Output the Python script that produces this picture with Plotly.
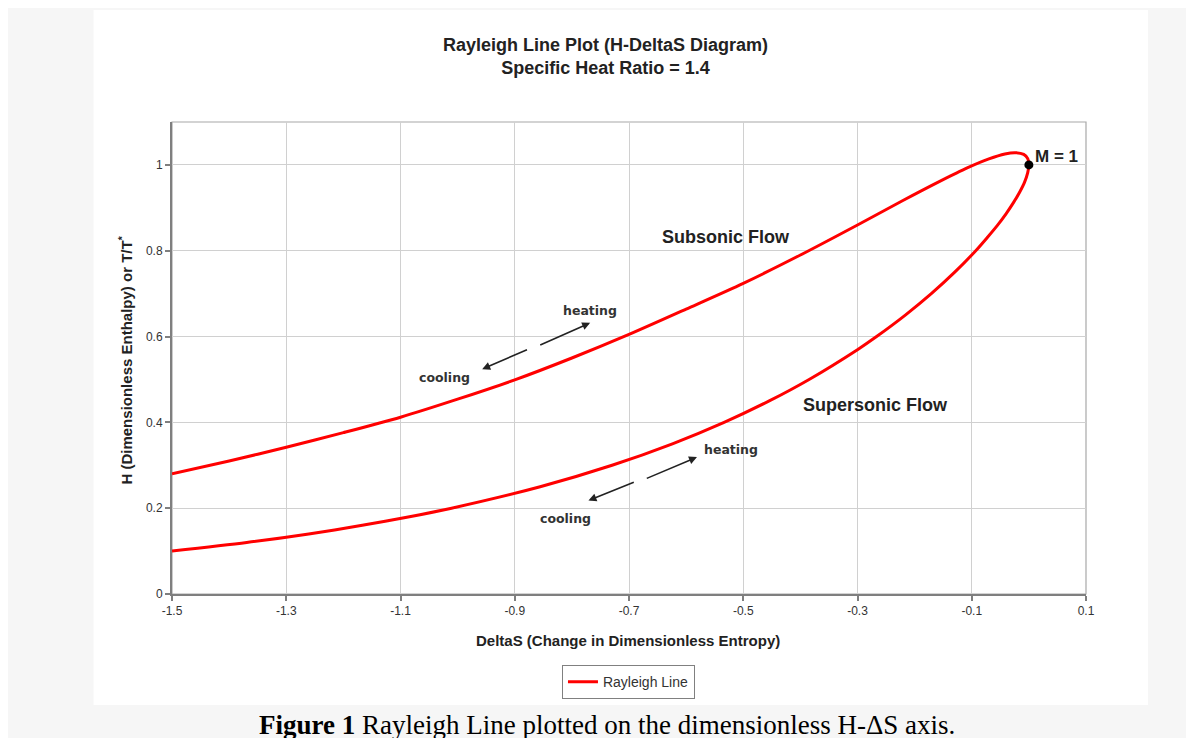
import plotly.graph_objects as go

# ---- data ----
subsonic_ds = [-1.5, -1.4, -1.3, -1.2, -1.1, -1.0, -0.9, -0.8, -0.7, -0.6, -0.5, -0.4,
               -0.3, -0.2205, -0.157, -0.108, -0.07, -0.042, -0.024, -0.009, -0.002, 0.0]
subsonic_h = [0.280, 0.310, 0.342, 0.376, 0.412, 0.454, 0.499, 0.550, 0.605, 0.664, 0.724, 0.790,
              0.860, 0.917, 0.961, 0.993, 1.014, 1.0255, 1.0286, 1.0245, 1.0146, 1.0]
supersonic_ds = [0.0, -0.002, -0.0075, -0.016, -0.027, -0.040, -0.0551, -0.072, -0.093, -0.1298,
                 -0.1708, -0.2163, -0.2666, -0.2994, -0.3847, -0.4545, -0.5335, -0.624, -0.7296,
                 -0.8555, -1.0106, -1.0843, -1.1669, -1.2606, -1.3692, -1.5]
supersonic_h = [1.0, 0.982, 0.960, 0.937, 0.912, 0.886, 0.859, 0.832, 0.800, 0.750,
                0.700, 0.650, 0.600, 0.570, 0.500, 0.450, 0.400, 0.350, 0.300,
                0.250, 0.200, 0.180, 0.160, 0.140, 0.120, 0.100]

x_ticks = [-1.5, -1.3, -1.1, -0.9, -0.7, -0.5, -0.3, -0.1, 0.1]
x_tick_labels = ["-1.5", "-1.3", "-1.1", "-0.9", "-0.7", "-0.5", "-0.3", "-0.1", "0.1"]
y_ticks = [0, 0.2, 0.4, 0.6, 0.8, 1.0]
y_tick_labels = ["0", "0.2", "0.4", "0.6", "0.8", "1"]

sonic_point = (0.0, 1.0)

line_x = subsonic_ds + supersonic_ds[1:]
line_y = subsonic_h + supersonic_h[1:]

fig = go.Figure()
fig.add_trace(go.Scatter(
    x=line_x, y=line_y, mode="lines", name="Rayleigh Line",
    line=dict(color="#ff0000", width=3, shape="spline", smoothing=0.8),
))
fig.add_trace(go.Scatter(
    x=[sonic_point[0]], y=[sonic_point[1]], mode="markers", showlegend=False,
    marker=dict(color="black", size=9),
))

sans = "Liberation Sans, Arial, sans-serif"
tick_font = dict(family=sans, size=12, color="#333333")

fig.update_xaxes(range=[-1.5, 0.1], tickvals=x_ticks, ticktext=x_tick_labels,
                 showgrid=True, gridcolor="#d0d0d0", gridwidth=1.2,
                 showline=True, linecolor="#7f7f7f", linewidth=2,
                 ticks="outside", ticklen=5, tickcolor="#7f7f7f", tickwidth=1.5,
                 tickfont=tick_font, zeroline=False)
fig.update_yaxes(range=[0, 1.1], tickvals=y_ticks, ticktext=y_tick_labels,
                 showgrid=True, gridcolor="#d0d0d0", gridwidth=1.2,
                 showline=True, linecolor="#7f7f7f", linewidth=2,
                 ticks="outside", ticklen=5, tickcolor="#7f7f7f", tickwidth=1.5,
                 tickfont=tick_font, zeroline=False)

shapes = [
    dict(type="rect", xref="paper", yref="paper", x0=-0.0858, x1=1.0678, y0=-0.2352, y1=1.2373,
         fillcolor="white", line=dict(width=0), layer="below"),
    dict(type="rect", xref="paper", yref="paper", x0=0, x1=1, y0=0, y1=1,
         fillcolor="rgba(0,0,0,0)", line=dict(color="#a8a8a8", width=1.2), layer="below"),
]

ann = []
# title
ann.append(dict(xref="paper", yref="paper", x=0.474, y=1.1388, xanchor="center", yanchor="middle",
                text="<b>Rayleigh Line Plot (H-DeltaS Diagram)<br>Specific Heat Ratio = 1.4</b>",
                showarrow=False, font=dict(family=sans, size=18, color="#222222")))
# axis titles
ann.append(dict(xref="paper", yref="paper", x=0.4992, y=-0.0975, xanchor="center", yanchor="middle",
                text="<b>DeltaS (Change in Dimensionless Entropy)</b>", showarrow=False,
                font=dict(family=sans, size=15, color="#222222")))
ann.append(dict(xref="paper", yref="paper", x=-0.0508, y=0.4958, xanchor="center", yanchor="middle",
                text="<b>H (Dimensionless Enthalpy) or T/T<sup>*</sup></b>", showarrow=False, textangle=-90,
                font=dict(family=sans, size=15, color="#222222")))
# caption
ann.append(dict(xref="paper", yref="paper", x=0.4762, y=-0.2765, xanchor="center", yanchor="middle",
                text="<b>Figure 1</b> Rayleigh Line plotted on the dimensionless H-ΔS axis.", showarrow=False,
                font=dict(family="Liberation Serif, Times New Roman, serif", size=27, color="#000000")))

# chart labels
big = dict(family=sans, size=18, color="#222222")
ann.append(dict(x=-0.531, y=0.833, text="<b>Subsonic Flow</b>", showarrow=False, font=big))
ann.append(dict(x=-0.269, y=0.441, text="<b>Supersonic Flow</b>", showarrow=False, font=big))
ann.append(dict(x=0.0, y=1.019, text="<b>M = 1</b>", showarrow=False, xanchor="left", xshift=4,
                font=dict(family=sans, size=17, color="#222222")))

small = dict(family="DejaVu Sans, sans-serif", size=12.5, color="#333333")
ann.append(dict(x=-0.769, y=0.660, text="<b>heating</b>", showarrow=False, font=small))
ann.append(dict(x=-1.023, y=0.504, text="<b>cooling</b>", showarrow=False, font=small))
ann.append(dict(x=-0.521, y=0.336, text="<b>heating</b>", showarrow=False, font=small))
ann.append(dict(x=-0.811, y=0.175, text="<b>cooling</b>", showarrow=False, font=small))

arrows = [
    ((-0.957, 0.524), (-0.876, 0.571)),
    ((-0.768, 0.632), (-0.858, 0.579)),
    ((-0.771, 0.218), (-0.689, 0.262)),
    ((-0.581, 0.319), (-0.6715, 0.268)),
]
for (hx, hy), (tx, ty) in arrows:
    ann.append(dict(x=hx, y=hy, ax=tx, ay=ty, xref="x", yref="y", axref="x", ayref="y",
                    text="", showarrow=True, arrowhead=2, arrowsize=1, arrowwidth=1.6,
                    arrowcolor="#222222", standoff=0, startstandoff=0))

fig.update_layout(
    width=1186, height=730,
    margin=dict(l=163.5, r=108, t=114, b=144),
    paper_bgcolor="#f6f6f6", plot_bgcolor="white",
    shapes=shapes, annotations=ann,
    showlegend=True,
    legend=dict(orientation="h", x=0.4992, y=-0.1864, xanchor="center", yanchor="middle",
                bordercolor="#808080", borderwidth=1.2, bgcolor="white", itemwidth=30,
                font=dict(family=sans, size=14, color="#333333")),
)

fig.write_html("out.html")
